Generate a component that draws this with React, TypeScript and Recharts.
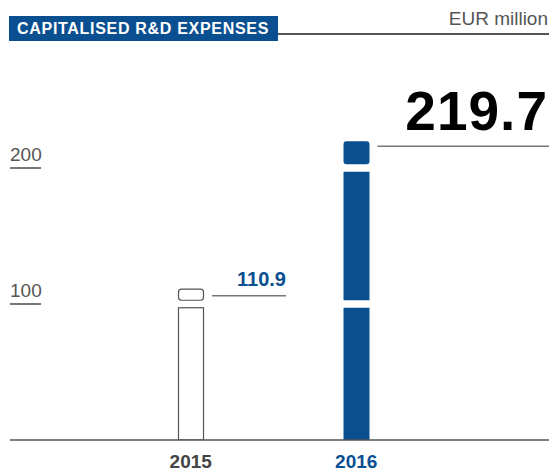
import React from 'react';
import { BarChart, Bar, XAxis, YAxis, LabelList, ReferenceLine } from 'recharts';

const categories = ['2015', '2016'];
const values = [110.9, 219.7];
const yTicks = [100, 200];
const title = 'CAPITALISED R&D EXPENSES';
const unit = 'EUR million';

const BLUE = '#0a4f8f';
const GREY = '#555555';
const FONT = "'Liberation Sans', Arial, sans-serif";
const GAP = 3.75;

const data = categories.map((c, i) => ({ year: c, value: values[i] }));

function SplitBar(props: any) {
  const { x, y, width, height, index, payload } = props;
  const v = payload.value;
  const base = y + height;
  const k = height / v;
  const cuts = yTicks.filter((t) => t < v).map((t) => base - t * k);
  const segs: [number, number][] = [];
  let bottom = base;
  cuts.forEach((c) => {
    segs.push([c + GAP, bottom]);
    bottom = c - GAP;
  });
  segs.push([y, bottom]);
  const filled = index === 1;
  return (
    <g>
      {segs.map(([top, bot], i) => {
        const isTop = i === segs.length - 1;
        return (
          <rect
            key={i}
            x={filled ? x : x + 0.5}
            y={top}
            width={filled ? width : width - 1}
            height={bot - top}
            rx={isTop ? 3 : 0}
            ry={isTop ? 3 : 0}
            fill={filled ? BLUE : '#ffffff'}
            stroke={filled ? 'none' : GREY}
            strokeWidth={1.2}
          />
        );
      })}
    </g>
  );
}

function ValueLabel(props: any) {
  const { x, y, width, value, index } = props;
  const right = x + width;
  if (index === 1) {
    const ly = y + 5;
    return (
      <g>
        <line x1={right + 8} x2={549} y1={ly} y2={ly} stroke="#777" strokeWidth={1.5} />
        <text x={548} y={ly - 16} textAnchor="end" fontFamily={FONT} fontWeight="bold" fontSize={55} letterSpacing={1} fill="#000">
          {value}
        </text>
      </g>
    );
  }
  const ly = y + 6.5;
  return (
    <g>
      <line x1={right + 8} x2={right + 82} y1={ly} y2={ly} stroke="#777" strokeWidth={1.5} />
      <text x={right + 82} y={ly - 9.5} textAnchor="end" fontFamily={FONT} fontWeight="bold" fontSize={20} fill={BLUE}>
        {value}
      </text>
    </g>
  );
}

function YTickLabel(props: any) {
  const { viewBox, value } = props;
  const y = viewBox.y;
  return (
    <g>
      <text x={10} y={y - 7} textAnchor="start" fontFamily={FONT} fontSize={19} fill={GREY}>
        {value}
      </text>
      <line x1={10} x2={41} y1={y} y2={y} stroke="#777" strokeWidth={2} />
    </g>
  );
}

function XTick(props: any) {
  const { x, payload, index } = props;
  return (
    <text x={x} y={468} textAnchor="middle" fontFamily={FONT} fontWeight="bold" fontSize={19} fill={index === 1 ? BLUE : '#444'}>
      {payload.value}
    </text>
  );
}

export default function App() {
  return (
    <div style={{ position: 'absolute', left: 0, top: 0, width: 549, height: 473, background: '#fff' }}>
      <div
        style={{
          position: 'absolute',
          left: 9,
          top: 16,
          width: 269,
          height: 25,
          background: BLUE,
          color: '#fff',
          fontFamily: FONT,
          fontWeight: 'bold',
          fontSize: 16,
          letterSpacing: 0.7,
          lineHeight: '25px',
          paddingLeft: 8,
          boxSizing: 'border-box',
          whiteSpace: 'nowrap',
        }}
      >
        {title}
      </div>
      <div style={{ position: 'absolute', left: 278, top: 33, width: 271, height: 1.5, background: GREY }} />
      <div
        style={{
          position: 'absolute',
          right: 1,
          top: 7,
          fontFamily: FONT,
          fontSize: 19,
          color: GREY,
          lineHeight: '24px',
          whiteSpace: 'nowrap',
        }}
      >
        {unit}
      </div>
      <div style={{ position: 'absolute', left: 0, top: 0 }}>
        <BarChart width={549} height={473} data={data} margin={{ top: 32, right: 0, bottom: 0, left: 10 }}>
          <XAxis
            dataKey="year"
            height={33}
            padding={{ left: 98, right: 110 }}
            tickLine={false}
            axisLine={{ stroke: GREY, strokeWidth: 1.5 }}
            tick={<XTick />}
            interval={0}
          />
          <YAxis width={0} domain={[0, 300]} ticks={yTicks} hide allowDataOverflow />
          {yTicks.map((t) => (
            <ReferenceLine key={t} y={t} stroke="none" label={<YTickLabel value={t} />} />
          ))}
          <Bar dataKey="value" barSize={26} shape={<SplitBar />} isAnimationActive={false}>
            <LabelList dataKey="value" content={<ValueLabel />} />
          </Bar>
        </BarChart>
      </div>
    </div>
  );
}
